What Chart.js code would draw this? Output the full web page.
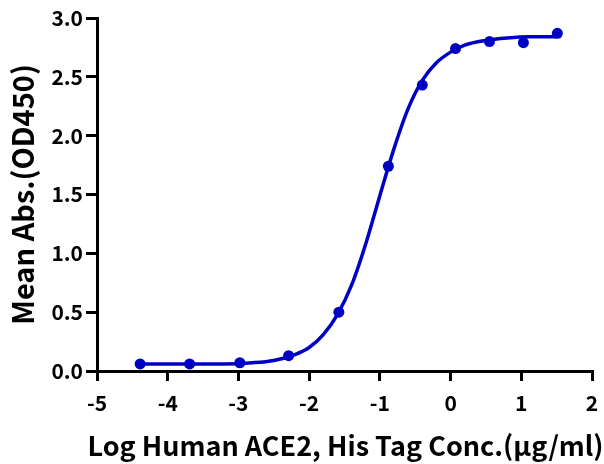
<!DOCTYPE html>
<html>
<head>
<meta charset="utf-8">
<script src="https://cdn.jsdelivr.net/npm/chart.js@4/dist/chart.umd.min.js"></script>
<style>
  html, body { margin: 0; padding: 0; background: #fff; }
  #wrap { width: 604px; height: 464px; }
</style>
</head>
<body>
<div id="wrap"><canvas id="c" width="604" height="464"></canvas></div>
<script>
// Measured points
const xPoints = [-4.39, -3.69, -2.98, -2.29, -1.58, -0.88, -0.40, 0.07, 0.55, 1.03, 1.51];
const yPoints = [0.06, 0.06, 0.07, 0.13, 0.50, 1.74, 2.43, 2.74, 2.80, 2.79, 2.87];

// Fitted curve
const curveX = [-4.39, -4.0, -3.6, -3.2, -2.8, -2.5, -2.2, -2.0, -1.8, -1.6, -1.4, -1.2, -1.0, -0.8, -0.6, -0.4, -0.2, 0.0, 0.2, 0.5, 0.8, 1.1, 1.51];
const curveY = [0.06, 0.06, 0.06, 0.06, 0.07, 0.09, 0.14, 0.20, 0.31, 0.48, 0.73, 1.08, 1.49, 1.89, 2.23, 2.47, 2.62, 2.71, 2.77, 2.81, 2.83, 2.84, 2.84];

const xTitle = 'Log Human ACE2, His Tag Conc.(\u03BCg/ml)';
const yTitle = 'Mean Abs.(OD450)';

const blue = '#0000C4';
const fontFam = "'Noto Sans CJK SC', 'Noto Sans', sans-serif";

const pts = xPoints.map((x, i) => ({ x: x, y: yPoints[i] }));
const curve = curveX.map((x, i) => ({ x: x, y: curveY[i] }));

// x-axis title drawn without Chart.js' max-width squeeze
const xTitlePlugin = {
  id: 'xTitlePlugin',
  afterDraw(chart) {
    const { ctx, chartArea } = chart;
    ctx.save();
    ctx.font = 'bold 27px ' + fontFam;
    ctx.fillStyle = '#000';
    ctx.textAlign = 'center';
    ctx.textBaseline = 'middle';
    ctx.fillText(xTitle, (chartArea.left + chartArea.right) / 2 + 1, 446);
    ctx.restore();
  }
};

new Chart(document.getElementById('c'), {
  type: 'scatter',
  data: {
    datasets: [
      {
        data: curve,
        showLine: true,
        borderColor: blue,
        borderWidth: 3.5,
        pointRadius: 0,
        cubicInterpolationMode: 'monotone',
        fill: false
      },
      {
        data: pts,
        showLine: false,
        backgroundColor: blue,
        borderColor: blue,
        pointRadius: 5.5,
        pointBorderWidth: 0
      }
    ]
  },
  plugins: [xTitlePlugin],
  options: {
    responsive: false,
    animation: false,
    events: [],
    layout: { padding: { top: 18, right: 12, left: 0, bottom: 0 } },
    plugins: { legend: { display: false }, tooltip: { enabled: false } },
    scales: {
      x: {
        type: 'linear',
        min: -5, max: 2,
        afterFit: (s) => { s.height = 93; s.paddingRight = 0; s.paddingLeft = 0; },
        ticks: { stepSize: 1, color: '#000', padding: 9, font: { family: fontFam, weight: 'bold', size: 21 } },
        grid: { drawOnChartArea: false, drawTicks: true, tickLength: 10, color: '#000', lineWidth: 3 },
        border: { display: true, color: '#000', width: 3 },
        title: { display: false }
      },
      y: {
        type: 'linear',
        min: 0, max: 3,
        afterFit: (s) => { s.width = 97; },
        ticks: { stepSize: 0.5, color: '#000', padding: 3, callback: (v) => v.toFixed(1), font: { family: fontFam, weight: 'bold', size: 21 } },
        grid: { drawOnChartArea: false, drawTicks: true, tickLength: 11, color: '#000', lineWidth: 3 },
        border: { display: true, color: '#000', width: 3 },
        title: { display: true, text: yTitle, color: '#000', padding: { top: 6, bottom: 0 }, font: { family: fontFam, weight: 'bold', size: 29 } }
      }
    }
  }
});
</script>
</body>
</html>
